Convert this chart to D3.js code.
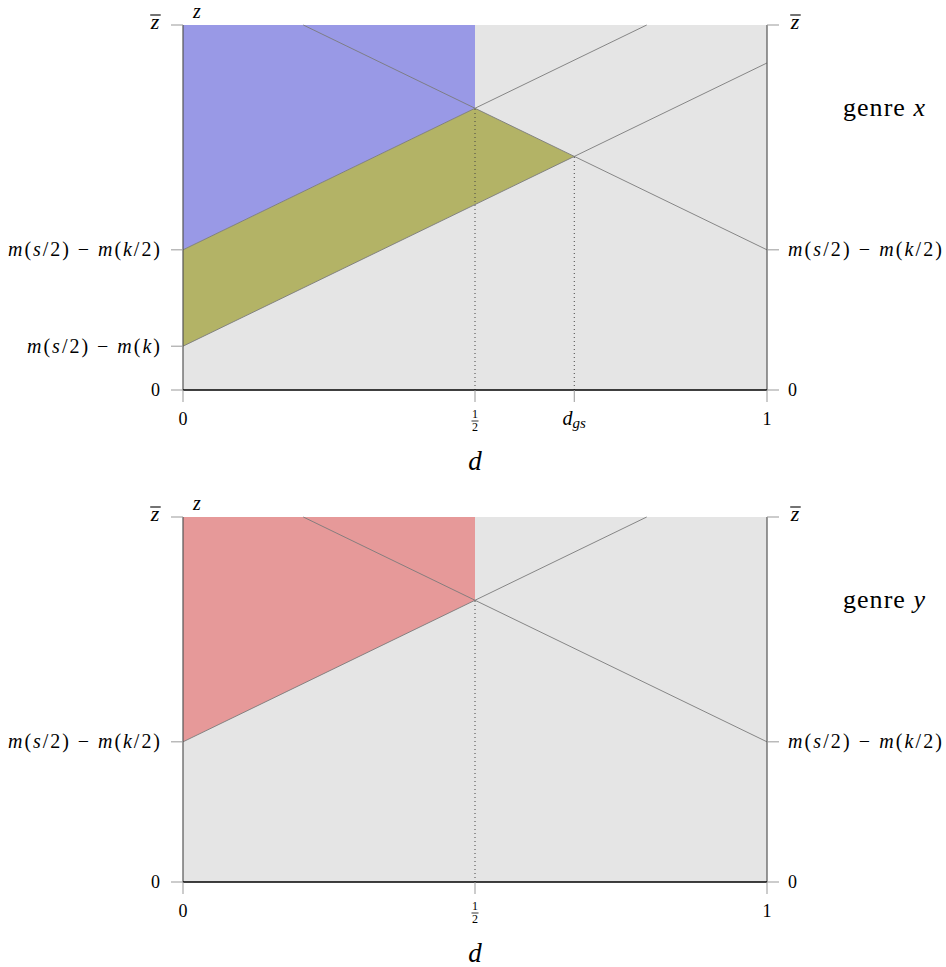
<!DOCTYPE html>
<html><head><meta charset="utf-8">
<script src="https://cdn.jsdelivr.net/npm/d3@7/dist/d3.min.js"></script>
<style>
body{margin:0;background:#fff;}
text{font-family:"Liberation Serif","DejaVu Serif",serif;fill:#000;}
</style></head>
<body>
<svg id="c" width="946" height="967"></svg>
<script>
// ---- data ----
const zBar = 1;
const zA = 0.384;   // m(s/2) - m(k/2)
const zC = 0.12;    // m(s/2) - m(k)
const dGs = 0.67;
const descLine = [[0.206, 1], [1, 0.384]];
const ascUpper = [[0, 0.384], [0.794, 1]];
const ascLower = [[0, 0.12], [1, 0.896]];
const blueRegion = [[0, 0.384], [0, 1], [0.5, 1], [0.5, 0.772]];
const oliveRegion = [[0, 0.12], [0, 0.384], [0.5, 0.772], [0.67, 0.640]];
const redRegion = [[0, 0.384], [0, 1], [0.5, 1], [0.5, 0.772]];
const dottedTop = [[0.5, 0.772], [0.67, 0.640]];
const dottedBot = [[0.5, 0.772]];
const genreLabels = ["genre x", "genre y"];

const svg = d3.select("#c");
const x = d3.scaleLinear().domain([0, 1]).range([183, 767]);

function panel(y0, y1, regions, lines, dotted, xTicks, leftTicks, rightTicks, genre) {
  const y = d3.scaleLinear().domain([0, 1]).range([y0, y1]);
  const g = svg.append("g");
  const line = d3.line().x(d => x(d[0])).y(d => y(d[1]));
  g.append("path").attr("d", line([[0,0],[0,1],[1,1],[1,0]]) + "Z").attr("fill", "#e5e5e5");
  regions.forEach(r => g.append("path").attr("d", line(r) + "Z").attr("fill", r.color).attr("stroke", "none"));
  lines.forEach(l => g.append("path").attr("d", line(l)).attr("stroke", "#7a7a7a").attr("stroke-width", 0.9).attr("fill", "none"));
  dotted.forEach(p => g.append("path").attr("d", line([[p[0], 0], p])).attr("stroke", "#444").attr("stroke-width", 1).attr("stroke-dasharray", "1,3").attr("fill", "none"));
  g.append("line").attr("x1", x(0)).attr("x2", x(0)).attr("y1", y(0)).attr("y2", y(1)).attr("stroke", "#555").attr("stroke-width", 1.2);
  g.append("line").attr("x1", x(1)).attr("x2", x(1)).attr("y1", y(0)).attr("y2", y(1)).attr("stroke", "#555").attr("stroke-width", 1.2);
  leftTicks.forEach(t => {
    g.append("line").attr("x1", x(0) - 12).attr("x2", x(0)).attr("y1", y(t.v)).attr("y2", y(t.v)).attr("stroke", "#999").attr("stroke-width", 1);
    const tx = g.append("text").attr("x", x(0) - 23).attr("y", y(t.v)).attr("dy", "0.32em").attr("text-anchor", "end").attr("font-size", 20);
    t.render(tx, "left");
  });
  rightTicks.forEach(t => {
    g.append("line").attr("x1", x(1)).attr("x2", x(1) + 12).attr("y1", y(t.v)).attr("y2", y(t.v)).attr("stroke", "#999").attr("stroke-width", 1);
    const tx = g.append("text").attr("x", x(1) + 21).attr("y", y(t.v)).attr("dy", "0.32em").attr("text-anchor", "start").attr("font-size", 20);
    t.render(tx, "right");
  });
  g.append("line").attr("x1", x(0)).attr("x2", x(1)).attr("y1", y(0)).attr("y2", y(0)).attr("stroke", "#000").attr("stroke-width", 1.6);
  xTicks.forEach(t => {
    g.append("line").attr("x1", x(t.v)).attr("x2", x(t.v)).attr("y1", y(0)).attr("y2", y(0) + 12).attr("stroke", "#999").attr("stroke-width", 1);
    t.render(g, x(t.v), y(0));
  });
  g.append("text").attr("x", x(0) + 14).attr("y", y(1) - 7).attr("text-anchor", "middle").attr("font-style", "italic").attr("font-size", 20).text("z");
  g.append("text").attr("x", x(0.5)).attr("y", y(0) + 80).attr("text-anchor", "middle").attr("font-style", "italic").attr("font-size", 27).text("d");
  g.append("text").attr("x", 884).attr("y", y(0.772)).attr("dy", "0.3em").attr("text-anchor", "middle").attr("font-size", 26)
    .attr("textLength", 82).attr("lengthAdjust", "spacing")
    .call(t => { t.append("tspan").text(genre.split(" ")[0] + " "); t.append("tspan").attr("font-style", "italic").text(genre.split(" ")[1]); });
}

function zbarR(t, side) {
  const base = +t.attr("y");
  t.attr("font-style", "italic").attr("font-size", 22).attr("dy", null).attr("y", base + 4)
   .attr("x", side === "left" ? 155 : 795).attr("text-anchor", "middle").text("z");
  const bb = t.node().getBBox();
  d3.select(t.node().parentNode).append("line")
    .attr("x1", bb.x + 0.5).attr("x2", bb.x + bb.width + 1)
    .attr("y1", base - 10).attr("y2", base - 10).attr("stroke", "#000").attr("stroke-width", 1.1);
}
function plain(s) { return t => t.attr("font-size", 18).text(s); }
function mLabel(inner, len) {
  return t => {
    const parts = [["m", true], ["(", false], ["s", true], ["/2) \u2212 ", false], ["m", true], ["(", false], ["k", true], [inner + ")", false]];
    parts.forEach(p => t.append("tspan").attr("font-style", p[1] ? "italic" : "normal").text(p[0]));
    t.attr("textLength", len).attr("lengthAdjust", "spacing");
  };
}
function simpleX(s) { return (g, px, py) => g.append("text").attr("x", px).attr("y", py + 35).attr("text-anchor", "middle").attr("font-size", 18).text(s); }
function halfX(g, px, py) {
  const t = g.append("text").attr("x", px).attr("y", py + 28).attr("text-anchor", "middle").attr("font-size", 12);
  t.append("tspan").attr("x", px).text("1");
  t.append("tspan").attr("x", px).attr("dy", 13).text("2");
  g.append("line").attr("x1", px - 3.5).attr("x2", px + 3.5).attr("y1", py + 31).attr("y2", py + 31).attr("stroke", "#000").attr("stroke-width", 0.8);
}
function dgsX(g, px, py) {
  const t = g.append("text").attr("x", px).attr("y", py + 35).attr("text-anchor", "middle").attr("font-size", 20).attr("font-style", "italic");
  t.append("tspan").text("d");
  t.append("tspan").attr("font-size", 15).attr("dy", 3).text("gs");
}

blueRegion.color = "#9999e6";
oliveRegion.color = "#b3b366";
redRegion.color = "#e69999";

panel(390, 25, [blueRegion, oliveRegion], [descLine, ascUpper, ascLower], dottedTop,
  [{v: 0, render: simpleX("0")}, {v: 0.5, render: halfX}, {v: dGs, render: dgsX}, {v: 1, render: simpleX("1")}],
  [{v: 0, render: plain("0")}, {v: zC, render: mLabel("", 133)}, {v: zA, render: mLabel("/2", 152)}, {v: zBar, render: zbarR}],
  [{v: 0, render: plain("0")}, {v: zA, render: mLabel("/2", 154)}, {v: zBar, render: zbarR}],
  genreLabels[0]);

panel(882, 517, [redRegion], [descLine, ascUpper], dottedBot,
  [{v: 0, render: simpleX("0")}, {v: 0.5, render: halfX}, {v: 1, render: simpleX("1")}],
  [{v: 0, render: plain("0")}, {v: zA, render: mLabel("/2", 152)}, {v: zBar, render: zbarR}],
  [{v: 0, render: plain("0")}, {v: zA, render: mLabel("/2", 154)}, {v: zBar, render: zbarR}],
  genreLabels[1]);
</script>
</body></html>
